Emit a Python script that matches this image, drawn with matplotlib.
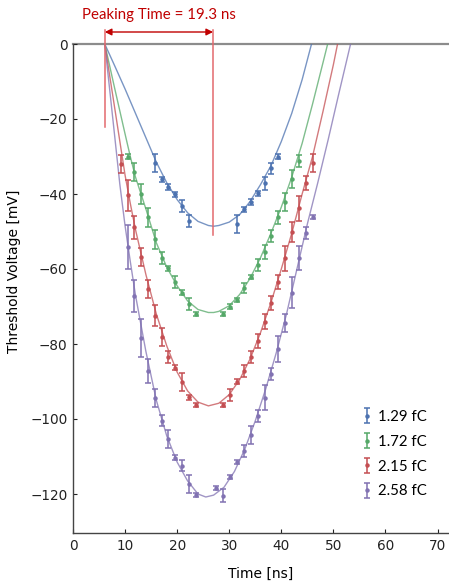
import matplotlib
matplotlib.use('Agg')
import matplotlib.pyplot as plt

# measured points (time in ns, threshold in mV, error in mV)
blue_t = [15.7, 17.0, 18.3, 19.6, 21.0, 22.3, 31.5, 32.8, 34.1, 35.5, 36.8, 38.1, 39.4]
blue_v = [-31.8, -36.1, -38.1, -40.1, -43.2, -47.1, -48.1, -44.1, -42.1, -39.8, -37.1, -33.1, -30.0]
blue_e = [2.4, 0.7, 0.7, 0.7, 1.5, 1.6, 2.4, 0.7, 0.7, 0.7, 1.7, 1.5, 0.7]

green_t = [10.5, 11.7, 13.0, 14.4, 15.7, 17.0, 18.3, 19.6, 21.0, 22.3, 23.6, 28.8, 30.2,
           31.5, 32.8, 34.1, 35.5, 36.8, 38.1, 39.4, 40.8, 42.1, 43.4]
green_v = [-30.0, -34.1, -40.0, -46.2, -52.1, -57.1, -59.8, -63.4, -66.3, -69.3, -72.0, -72.0, -70.0,
           -68.3, -65.1, -62.1, -58.9, -55.4, -51.2, -46.2, -42.1, -36.1, -31.1]
green_e = [0.6, 2.5, 2.6, 2.6, 2.6, 1.6, 0.6, 1.6, 0.6, 1.6, 0.5, 0.5, 0.6,
           0.6, 1.4, 0.6, 1.6, 1.8, 1.6, 1.8, 2.4, 2.4, 1.6]

red_t = [9.2, 10.5, 11.7, 13.0, 14.4, 15.7, 17.0, 18.3, 19.6, 21.0, 22.3, 23.6, 28.8,
         30.2, 31.5, 32.8, 34.1, 35.5, 36.8, 38.1, 39.4, 40.8, 42.1, 43.4, 44.7, 46.0]
red_v = [-32.0, -40.3, -48.9, -56.8, -65.4, -72.4, -78.2, -83.4, -86.3, -90.0, -94.2, -96.3, -96.3,
         -93.5, -90.0, -87.2, -83.4, -79.2, -74.0, -69.1, -63.4, -57.1, -50.1, -43.8, -37.1, -31.8]
red_e = [2.4, 4.1, 3.1, 2.4, 2.4, 2.7, 2.4, 1.6, 0.6, 2.4, 0.6, 0.5, 0.5,
         1.6, 0.6, 1.6, 1.6, 1.8, 2.1, 1.8, 1.8, 3.3, 2.7, 3.3, 1.8, 2.4]

purple_t = [10.5, 11.7, 13.0, 14.4, 15.7, 17.0, 18.3, 19.6, 21.0, 22.3, 23.6, 27.5, 28.8,
            30.2, 31.5, 32.8, 34.1, 35.5, 36.8, 38.1, 39.4, 40.8, 42.1, 43.4, 44.7, 46.0]
purple_v = [-54.2, -67.2, -78.3, -87.3, -94.3, -100.4, -105.4, -110.3, -112.4, -117.4, -120.3, -118.3, -120.4,
            -115.4, -111.4, -108.5, -104.3, -99.2, -94.3, -88.1, -81.3, -74.3, -66.3, -57.1, -50.3, -46.1]
purple_e = [5.9, 4.2, 5.1, 3.2, 2.4, 1.5, 2.4, 0.6, 1.4, 2.4, 0.5, 0.5, 1.7,
            0.6, 0.6, 1.6, 2.4, 1.6, 3.3, 1.6, 3.4, 2.4, 4.2, 3.2, 1.6, 0.6]

# fitted curves
blue_fit_t = [6.1, 8, 10, 12, 14, 16, 18, 20, 22, 24, 26, 27, 28, 30, 32, 34, 36, 38, 40, 42, 44, 45.8]
blue_fit_v = [0, -5.8, -12, -18.5, -25, -31.5, -37, -41.5, -45, -47.3, -48.4, -48.6, -48.4, -47.5,
              -45.5, -42, -37.5, -32.5, -26, -18.5, -9.5, 0]

green_fit_t = [6.1, 8, 10, 11, 12, 14, 16, 18, 20, 22, 24, 26, 27, 28, 30, 32, 34, 36, 38, 40, 42,
               44, 46, 48, 48.9]
green_fit_v = [0, -11.8, -24, -30, -35.5, -44, -53, -59.5, -64.5, -68.5, -70.8, -71.6, -71.6, -71.3,
               -69.8, -66.8, -62.5, -57, -50.5, -43.5, -35.5, -26.5, -16, -5, 0]

red_fit_t = [6.1, 8, 9, 10, 11, 12, 14, 16, 18, 20, 22, 24, 26, 28, 30, 32, 34, 36, 38, 40, 42, 44,
             46, 48, 50, 50.8]
red_fit_v = [0, -17, -26, -35, -42.5, -49.5, -61.5, -72, -80.5, -87.5, -92.5, -95.5, -96.5, -95.8,
             -93.5, -89.5, -84, -77, -69, -60, -50.5, -40, -30, -18, -5.5, 0]

purple_fit_t = [6.1, 8, 9, 10, 11, 12, 14, 16, 18, 20, 22, 24, 25.5, 27, 29, 31, 33, 35, 37, 39, 41,
                43, 45, 47, 49, 51, 53.3]
purple_fit_v = [0, -24.5, -37.5, -48.5, -58, -67, -82, -95, -104.5, -111.5, -116.5, -120, -120.8,
                -120.3, -118.2, -114, -108, -100.5, -92, -82.5, -72, -60, -48, -37, -25.5, -13.5, 0]

labels = ['1.29 fC', '1.72 fC', '2.15 fC', '2.58 fC']
colors = ['#4c72b0', '#55a868', '#c44e52', '#8172b2']

peak_start = 6.1
peak_end = 26.9
peak_text = 'Peaking Time = 19.3 ns'

fig = plt.figure(figsize=(4.49, 5.86), dpi=100)
ax = fig.add_axes([73 / 449, 53 / 586, 376 / 449, 489 / 586])

series = [(blue_t, blue_v, blue_e, blue_fit_t, blue_fit_v),
          (green_t, green_v, green_e, green_fit_t, green_fit_v),
          (red_t, red_v, red_e, red_fit_t, red_fit_v),
          (purple_t, purple_v, purple_e, purple_fit_t, purple_fit_v)]

handles = []
for (t, v, e, ft, fv), c in zip(series, colors):
    ax.plot(ft, fv, color=c, lw=1.0, alpha=0.75, zorder=2)
    h = ax.errorbar(t, v, yerr=e, fmt='o', ms=2.2, color=c, ecolor=c,
                    elinewidth=1.1, capsize=2.2, capthick=1.1, zorder=3)
    handles.append(h)

ax.axhline(0, color='#8c8c8c', lw=1.6, zorder=1, clip_on=False)

ax.set_xlim(0, 72.2)
ax.set_ylim(-130.4, 0)
ax.set_xticks(range(0, 71, 10))
ax.set_yticks(range(-120, 1, 20))
ax.tick_params(direction='in', length=3, width=0.8, labelsize=9.8, colors='#222222', pad=4)
for s in ['top', 'right']:
    ax.spines[s].set_visible(False)
for s in ['left', 'bottom']:
    ax.spines[s].set_color('#444444')
    ax.spines[s].set_linewidth(1.0)

ax.set_xlabel('Time [ns]', fontsize=10, labelpad=10)
ax.set_ylabel('Threshold Voltage [mV]', fontsize=10)
ax.yaxis.set_label_coords(-0.138, 0.536)

# peaking time annotation
red_line = '#e36a6e'
ax.plot([peak_start, peak_start], [3.7, -22], color=red_line, lw=1.1, clip_on=False, zorder=4)
ax.plot([peak_end, peak_end], [3.7, -51], color=red_line, lw=1.1, clip_on=False, zorder=4)
ax.annotate('', xy=(peak_start, 3.2), xytext=(peak_end, 3.2),
            arrowprops=dict(arrowstyle='<|-|>', color='#c00000', lw=1.0,
                            mutation_scale=10, shrinkA=0, shrinkB=0),
            annotation_clip=False)
ax.text((peak_start + peak_end) / 2, 7.7, peak_text, color='#c00000', fontsize=10.8,
        family='Lato', ha='center', va='center')

leg = ax.legend(handles, labels, loc='upper left', bbox_to_anchor=(0.735, 0.279),
                frameon=False, handlelength=0.6, handletextpad=0.4,
                labelspacing=0.72, prop={'family': 'Lato', 'size': 10.8})

fig.savefig('out.png', dpi=100)
